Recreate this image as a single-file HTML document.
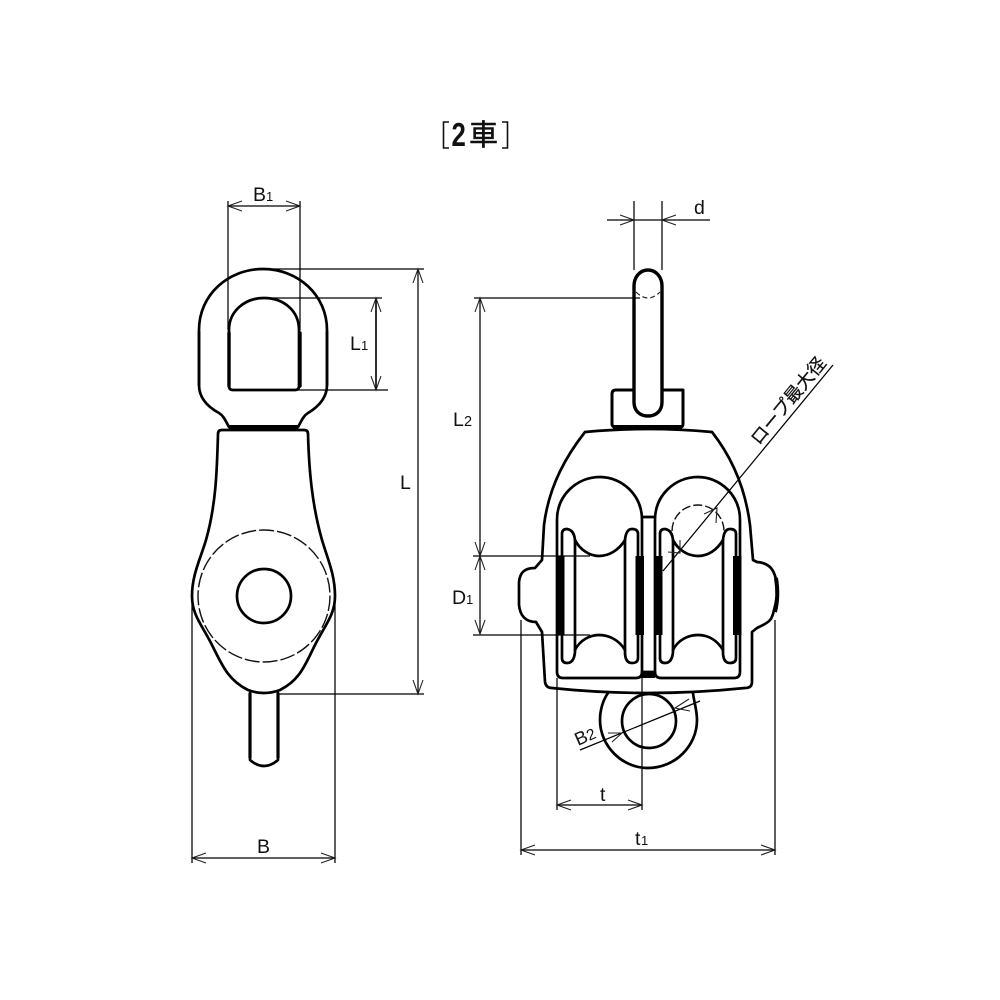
<!DOCTYPE html>
<html><head><meta charset="utf-8"><style>
html,body{margin:0;padding:0;background:#fff;width:1000px;height:1000px;overflow:hidden}
svg{display:block}
text{font-family:"Liberation Sans","Noto Sans CJK JP",sans-serif;fill:#111}
.o{fill:none;stroke:#000;stroke-width:2.7;stroke-linejoin:round;stroke-linecap:round}
.t{fill:none;stroke:#000;stroke-width:3.4;stroke-linecap:round;stroke-linejoin:round}
.d{fill:none;stroke:#000;stroke-width:1.25}
.a{fill:none;stroke:#222;stroke-width:1.1}
.b{fill:#000}
</style></head><body>
<svg width="1000" height="1000" viewBox="0 0 1000 1000" xmlns="http://www.w3.org/2000/svg">
<!-- title -->
<path d="M449 122H443.500V148H449M502 122H507.500V148H502" fill="none" stroke="#111" stroke-width="1.6"/>
<text transform="translate(451.500,146) scale(0.78,1)" font-size="33" font-weight="bold">2</text>
<text x="469" y="145" font-size="29" stroke="#111" stroke-width="0.5">車</text>

<!-- LEFT VIEW -->
<path class="o" d="M199 330C199 295 228 269 263 269C298 269 327 295 327 330V385C327 398 318 407 308 413C303 416 301 422 298 427H229C226 422 224 416 219 413C208 407 199 398 199 385Z"/>
<path class="o" d="M199 332V385M327 332V385" stroke-width="3"/>
<path class="o" d="M229 330C229 311 245 298 264 298C284 298 299 311 299 330V386Q299 390 295 390H233Q229 390 229 386Z"/>
<path class="t" d="M229 333V386M300 333V386"/>
<path d="M229 427H298" stroke="#000" stroke-width="4"/>
<path class="o" d="M218 434Q218 430 222 430H304Q308 430 308 434C309 470 312 505 322 540C328 560 335 575 335 596C335 615 325 625 315 645C305 665 300 680 280 690Q264 696 248 690C228 680 222 665 212 645C202 625 192 615 192 596C192 575 200 560 206 540C216 505 217 470 218 434Z"/>
<circle class="o" cx="264" cy="596" r="27"/>
<circle cx="264" cy="596" r="66" fill="none" stroke="#111" stroke-width="1.4" stroke-dasharray="15 3"/>
<path class="o" d="M250 693V760Q264 772 278 760V693" />
<path d="M250 693V758M278 693V758" stroke="#000" stroke-width="3.2" fill="none"/>

<!-- left dims -->
<path class="d" d="M228 201V330M300 201V330M228 206H300"/>
<path class="a" d="M242 201L228 206L242 211M286 201L300 206L286 211"/>
<path class="d" d="M263 269H424M418 269V694M278 694H424"/>
<path class="a" d="M413 283L418 269L423 283M413 680L418 694L423 680"/>
<path class="d" d="M264 298H382M298 390H388M376 298V390" />
<path d="M376 298V390" stroke="#000" stroke-width="1.5"/>
<path class="a" d="M371 312L376 298L381 312M371 376L376 390L381 376"/>
<path class="d" d="M192 600V863M335 600V863M192 858H335"/>
<path class="a" d="M206 853L192 858L206 863M321 853L335 858L321 863"/>
<text x="253" y="201" font-size="19.500">B</text><text x="266" y="201" font-size="13">1</text>
<text x="350" y="350" font-size="19.500">L</text><text x="361" y="350" font-size="13">1</text>
<text x="400" y="489" font-size="19.500">L</text>
<text x="257" y="853" font-size="19.500">B</text>

<!-- RIGHT VIEW -->
<path class="o" d="M585 432Q648 426 712 432C730 455 745 485 750 525L753 560L757 562C770 563 775 570 777 585Q778 596 774 610C772 620 770 622 757 628L752 632L752 682Q752 688 745 688Q648 698 552 688Q546 688 545 682L542 632L536 622C525 622 520 615 519 605V582C520 572 525 568 535 568L542 560L544 525C549 485 567 455 585 432Z"/>
<path d="M776 578Q779 596 775 612" stroke="#000" stroke-width="4" fill="none"/>
<!-- windows -->
<path class="o" d="M557 520C557 495 577 477 600 477C622 477 642 495 642 520V672Q642 678 636 678H563Q557 678 557 672Z"/>
<path class="o" d="M655 520C655 495 675 477 698 477C720 477 740 495 740 520V672Q740 678 734 678H661Q655 678 655 672Z"/>
<path class="o" d="M642 517H655M642 672H655"/>
<path d="M642 672H655V678H642Z" fill="#000"/>
<!-- sheaves -->
<path class="o" d="M562 534Q562 529 567 529Q574 530 575 540V652Q574 663 567 663Q562 663 562 658Z" style="fill:#fff"/>
<path class="o" d="M625 540Q626 529 632 529Q638 529 638 534V658Q638 663 632 663Q625 663 625 652Z" style="fill:#fff"/>
<path class="o" d="M660 534Q660 529 665 529Q672 530 673 540V652Q672 663 665 663Q660 663 660 658Z" style="fill:#fff"/>
<path class="o" d="M723 540Q724 529 730 529Q736 529 736 534V658Q736 663 730 663Q723 663 723 652Z" style="fill:#fff"/>
<!-- black bars -->
<rect class="b" x="556" y="556" width="8.500" height="79"/>
<rect class="b" x="635.500" y="556" width="8.500" height="79"/>
<rect class="b" x="654" y="556" width="8.500" height="79"/>
<rect class="b" x="733" y="556" width="8.500" height="79"/>
<path class="o" d="M575 540C580 550 590 556 599 556C609 556 619 550 625 540M575 650C580 640 590 635 599 635C609 635 619 640 625 650"/>
<path class="o" d="M673 540C678 550 688 556 698 556C708 556 717 550 723 540M673 650C678 640 688 635 698 635C708 635 717 640 723 650"/>
<path d="M672 531A26 26 0 1 1 724 531" fill="none" stroke="#111" stroke-width="1.4" stroke-dasharray="9 3"/>
<!-- swivel pin and block -->
<path class="t" d="M612 394Q612 390 616 390H683V424Q683 427 680 427H616Q612 427 612 424Z" style="stroke-width:3"/>
<path d="M613 427H682" stroke="#000" stroke-width="4"/>
<path class="t" d="M634 286C634 277 640 270 648 270C656 270 662 277 662 286V402C662 411 656 416 648 416C640 416 634 411 634 402Z" style="fill:#fff"/>
<path d="M636 292Q648 304 660 292" fill="none" stroke="#222" stroke-width="1.2" stroke-dasharray="5 3"/>
<!-- lower eye -->
<path class="o" d="M608 693C603 700 600 710 600 720C600 746 622 768 648 768C675 768 697 746 697 720C697 710 694 702 693 693"/>
<circle class="o" cx="649" cy="721" r="27"/>

<!-- right dims -->
<path class="d" d="M634 201V270M662 201V270M607 220H710"/>
<path class="a" d="M620 215L634 220L620 225M676 215L662 220L676 225"/>
<path class="d" d="M474 298H640M480 298V634M473 556H590M473 635H590"/>
<path class="a" d="M475 312L480 298L485 312M475 542L480 556L485 542M475 570L480 556L485 570M475 620L480 634L485 620"/>
<path class="d" d="M557 678V810M642 672V810M557 805H642"/>
<path class="a" d="M571 800L557 805L571 810M628 800L642 805L628 810"/>
<path class="d" d="M521 620V855M775 620V855M521 850H775"/>
<path class="a" d="M535 845L521 850L535 855M761 845L775 850L761 855"/>
<path class="d" d="M663 571L833 365"/>
<path class="a" d="M716 523L717 508L704 514M668 552L680 553L680 540"/>
<path class="d" d="M580 750L700 701"/>
<path class="a" d="M608 733L622 733L612 742M689 699L675 708L690 711"/>
<text x="453" y="426" font-size="19.500">L</text><text x="464" y="426" font-size="14.500">2</text>
<text x="452" y="604" font-size="19.500">D</text><text x="466" y="604" font-size="13">1</text>
<text x="694" y="214" font-size="19.500">d</text>
<text x="600" y="801" font-size="19.500">t</text>
<text x="635" y="845" font-size="19.500">t</text><text x="641" y="845" font-size="13">1</text>
<text transform="translate(578,746) rotate(-24)" font-size="18.500">B<tspan font-size="15.500">2</tspan></text>
<text transform="translate(759,446) rotate(-50.500)" font-size="18" stroke="#111" stroke-width="0.25">ロープ最大径</text>
</svg>
</body></html>
